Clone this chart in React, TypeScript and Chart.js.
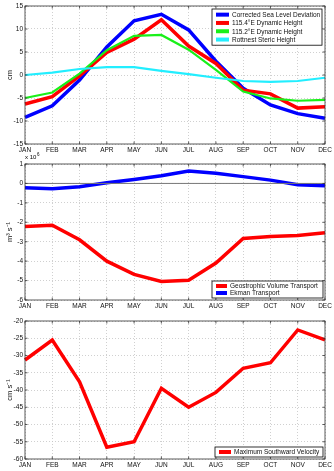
import React, { useEffect, useRef } from "react";
import { Chart, registerables } from "chart.js";
Chart.register(...registerables);

const months = ["JAN", "FEB", "MAR", "APR", "MAY", "JUN", "JUL", "AUG", "SEP", "OCT", "NOV", "DEC"];

// Panel 1 (cm)
const seaLevel = [-9.2, -6.7, -1.1, 6.1, 11.8, 13.2, 9.8, 3.0, -2.9, -6.5, -8.4, -9.4];
const dyn1154 = [-6.3, -4.7, -0.2, 4.9, 7.8, 12.0, 6.3, 2.5, -3.3, -4.1, -7.2, -6.9];
const dyn1152 = [-5.0, -3.8, 0.3, 5.4, 8.5, 8.7, 5.5, 1.1, -3.6, -5.1, -5.6, -5.4];
const steric = [0.0, 0.5, 1.3, 1.7, 1.7, 0.9, 0.2, -0.6, -1.3, -1.5, -1.3, -0.6];

// Panel 2 (x 10^6 m^3 s^-1)
const geoTransport = [-2.22, -2.15, -2.9, -4.0, -4.68, -5.05, -4.98, -4.1, -2.83, -2.73, -2.68, -2.54];
const ekmanTransport = [-0.22, -0.28, -0.17, 0.03, 0.2, 0.4, 0.64, 0.52, 0.35, 0.17, -0.07, -0.12];

// Panel 3 (cm s^-1)
const southwardVel = [-31.3, -25.5, -37.6, -56.6, -55.0, -39.5, -45.0, -40.7, -33.7, -32.1, -22.6, -25.5];

const FONT = "'Liberation Sans', Arial, Helvetica, sans-serif";
Chart.defaults.font.family = FONT;

const framePlugin = {
  id: "framePlugin",
  afterDatasetsDraw(chart: any, _args: any, opts: any) {
    const ctx = chart.ctx;
    const a = chart.chartArea;
    ctx.save();
    if (opts && opts.zeroLine) {
      const y = chart.scales.y.getPixelForValue(0);
      ctx.strokeStyle = "#777";
      ctx.lineWidth = 1;
      ctx.beginPath();
      ctx.moveTo(a.left, y);
      ctx.lineTo(a.right, y);
      ctx.stroke();
    }
    ctx.restore();
  },
  afterDraw(chart: any, _args: any, opts: any) {
    const ctx = chart.ctx;
    const a = chart.chartArea;
    ctx.save();
    ctx.strokeStyle = "#333";
    ctx.lineWidth = 0.8;
    ctx.strokeRect(a.left, a.top, a.right - a.left, a.bottom - a.top);
    // inward tick marks on all four sides
    ctx.beginPath();
    const tl = 2.5;
    chart.scales.x.ticks.forEach((_t: any, i: number) => {
      const px = chart.scales.x.getPixelForTick(i);
      ctx.moveTo(px, a.bottom);
      ctx.lineTo(px, a.bottom - tl);
      ctx.moveTo(px, a.top);
      ctx.lineTo(px, a.top + tl);
    });
    chart.scales.y.ticks.forEach((_t: any, i: number) => {
      const py = chart.scales.y.getPixelForTick(i);
      ctx.moveTo(a.left, py);
      ctx.lineTo(a.left + tl, py);
      ctx.moveTo(a.right, py);
      ctx.lineTo(a.right - tl, py);
    });
    ctx.stroke();
    if (opts && opts.exponent) {
      ctx.fillStyle = "#000";
      ctx.font = "6px " + FONT;
      ctx.textBaseline = "alphabetic";
      ctx.textAlign = "left";
      ctx.fillText("x 10", a.left, a.top - 5);
      ctx.font = "4.5px " + FONT;
      ctx.fillText("6", a.left + 12, a.top - 8);
    }
    // legend
    const lg = opts && opts.legend;
    if (lg) {
      const items = chart.data.datasets.filter((d: any) => d.label);
      const h = lg.padY * 2 + items.length * lg.rowH;
      const x = a.right - lg.marginRight - lg.width;
      const y = lg.corner === "top" ? a.top + lg.margin : a.bottom - lg.margin - h;
      ctx.fillStyle = "#fff";
      ctx.fillRect(x, y, lg.width, h);
      ctx.strokeStyle = "#000";
      ctx.lineWidth = 0.8;
      ctx.strokeRect(x, y, lg.width, h);
      ctx.font = "6.5px " + FONT;
      ctx.textBaseline = "middle";
      ctx.textAlign = "left";
      items.forEach((d: any, i: number) => {
        const cy = y + lg.padY + lg.rowH * (i + 0.5);
        ctx.strokeStyle = d.borderColor;
        ctx.lineWidth = 4;
        ctx.beginPath();
        ctx.moveTo(x + lg.lineX, cy);
        ctx.lineTo(x + lg.lineX + lg.lineLen, cy);
        ctx.stroke();
        ctx.fillStyle = "#111";
        ctx.fillText(d.label, x + lg.lineX + lg.lineLen + 3, cy + 0.5);
      });
    }
    ctx.restore();
  },
};

function makeConfig(p: {
  datasets: any[];
  min: number;
  max: number;
  step: number;
  title: string;
  padTop: number;
  xHeight: number;
  frame: any;
}) {
  return {
    type: "line" as const,
    data: { labels: months, datasets: p.datasets },
    plugins: [framePlugin],
    options: {
      animation: false,
      responsive: false,
      maintainAspectRatio: false,
      layout: { padding: { top: p.padTop, right: 9, left: 0, bottom: 0 } },
      elements: { point: { radius: 0 }, line: { tension: 0, borderCapStyle: "butt", borderJoinStyle: "miter" } },
      plugins: {
        legend: { display: false },
        tooltip: { enabled: false },
        framePlugin: p.frame,
      },
      scales: {
        x: {
          type: "category",
          offset: false,
          afterFit: (s: any) => {
            s.height = p.xHeight;
          },
          ticks: { font: { size: 6.5 }, color: "#111", padding: 2, maxRotation: 0, autoSkip: false },
          grid: { color: "#c4c4c4", drawTicks: false, lineWidth: 0.8 },
          border: { display: false, dash: [1, 2] },
        },
        y: {
          min: p.min,
          max: p.max,
          afterFit: (s: any) => {
            s.width = 25;
          },
          ticks: { stepSize: p.step, font: { size: 6.5 }, color: "#111", padding: 2 },
          grid: { color: "#c4c4c4", drawTicks: false, lineWidth: 0.8 },
          border: { display: false, dash: [1, 2] },
          title: { display: true, text: p.title, font: { size: 7.5 }, color: "#111", padding: { top: 5, bottom: 0 } },
        },
      },
    },
  };
}

function Panel(props: { top: number; height: number; config: any }) {
  const ref = useRef<HTMLCanvasElement>(null);
  useEffect(() => {
    if (!ref.current) return;
    const c = new Chart(ref.current, props.config);
    return () => c.destroy();
  }, []);
  return (
    <canvas
      ref={ref}
      width={334}
      height={props.height}
      style={{ position: "absolute", left: 0, top: props.top, width: 334, height: props.height }}
    />
  );
}

export default function App() {
  const cfg1 = makeConfig({
    datasets: [
      { label: "Corrected Sea Level Deviation", data: seaLevel, borderColor: "#0000ff", borderWidth: 3.5, order: 3 },
      { label: "115.4°E Dynamic Height", data: dyn1154, borderColor: "#ff0000", borderWidth: 3.5, order: 2 },
      { label: "115.2°E Dynamic Height", data: dyn1152, borderColor: "#19f019", borderWidth: 2.2, order: 1 },
      { label: "Rottnest Steric Height", data: steric, borderColor: "#22eeff", borderWidth: 2.2, order: 0 },
    ],
    min: -15,
    max: 15,
    step: 5,
    title: "cm",
    padTop: 6,
    xHeight: 12,
    frame: {
      legend: { corner: "top", width: 110, margin: 3, marginRight: 3, padY: 1.5, rowH: 8.3, lineX: 4, lineLen: 13 },
    },
  });
  const cfg2 = makeConfig({
    datasets: [
      { label: "Geostrophic Volume Transport", data: geoTransport, borderColor: "#ff0000", borderWidth: 3.5 },
      { label: "Ekman Transport", data: ekmanTransport, borderColor: "#0000ff", borderWidth: 3.5 },
    ],
    min: -6,
    max: 1,
    step: 1,
    title: "m³ s⁻¹",
    padTop: 14,
    xHeight: 10,
    frame: {
      zeroLine: true,
      exponent: true,
      legend: { corner: "bottom", width: 111, margin: 2, marginRight: 2, padY: 1.5, rowH: 7, lineX: 4, lineLen: 11 },
    },
  });
  const cfg3 = makeConfig({
    datasets: [{ label: "Maximum Southward Velocity", data: southwardVel, borderColor: "#ff0000", borderWidth: 3.5 }],
    min: -60,
    max: -20,
    step: 5,
    title: "cm s⁻¹",
    padTop: 13,
    xHeight: 12,
    frame: {
      legend: { corner: "bottom", width: 108, margin: 2, marginRight: 2, padY: 1, rowH: 8, lineX: 4, lineLen: 12 },
    },
  });
  return (
    <div style={{ position: "absolute", left: 0, top: 0, width: 334, height: 471, background: "#fff" }}>
      <Panel top={0} height={156} config={cfg1} />
      <Panel top={150} height={160} config={cfg2} />
      <Panel top={308} height={163} config={cfg3} />
    </div>
  );
}
